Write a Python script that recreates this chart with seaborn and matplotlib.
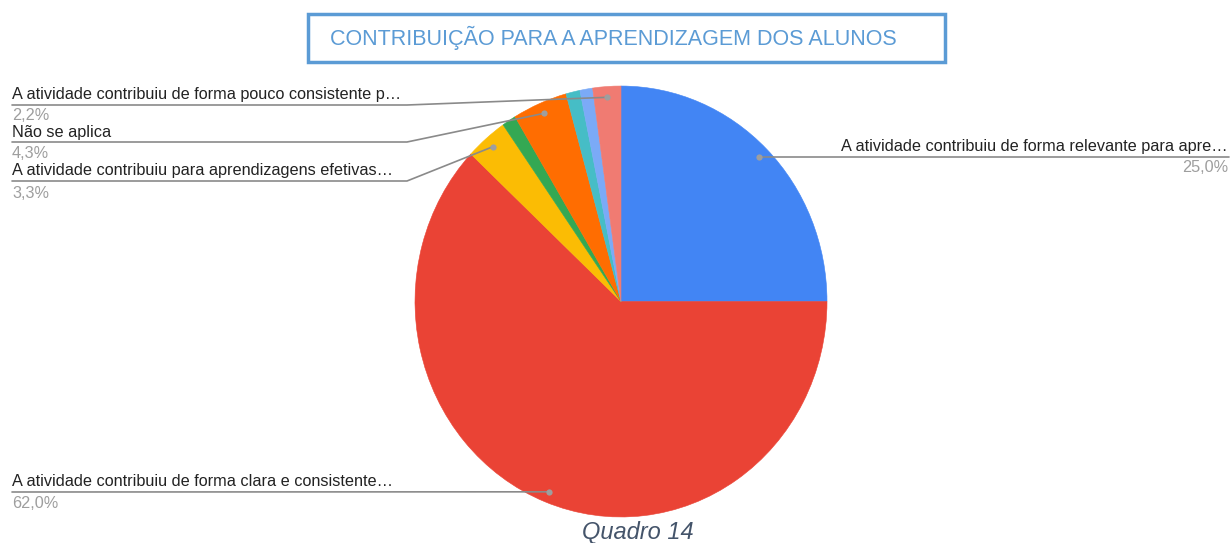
import numpy as np
import matplotlib
matplotlib.use("Agg")
import matplotlib.pyplot as plt
import seaborn as sns
from matplotlib.patches import Rectangle

# dados do quadro
categories = [
    "A atividade contribuiu de forma relevante para apre…",
    "A atividade contribuiu de forma clara e consistente…",
    "A atividade contribuiu para aprendizagens efetivas…",
    "Outra resposta 1",
    "Não se aplica",
    "Outra resposta 2",
    "Outra resposta 3",
    "A atividade contribuiu de forma pouco consistente p…",
]
values = [25.0, 62.0, 3.3, 1.1, 4.3, 1.1, 1.0, 2.2]
pct_labels = ["25,0%", "62,0%", "3,3%", "", "4,3%", "", "", "2,2%"]
colors = ["#4285F4", "#EA4335", "#FBBC04", "#34A853",
          "#FF6D01", "#46BDC6", "#7BAAF7", "#F07B72"]

W, H = 1231, 543
K = 1.046  # a pizza é ligeiramente esticada na vertical
sns.set_theme(style="white")
plt.rcParams['font.family'] = ['Liberation Sans', 'DejaVu Sans']

fig = plt.figure(figsize=(W / 100, H / 100), dpi=100)
ax = fig.add_axes([0, 0, 1, 1])


def Y(y):
    # coordenada da imagem -> coordenada do eixo
    return (H - y) / K


cx, cy, R = 621, Y(301.5), 206
wedges, _ = ax.pie(values, colors=colors, startangle=90, counterclock=False,
                   center=(cx, cy), radius=R, frame=True,
                   wedgeprops=dict(linewidth=0))
for w in wedges:
    w.set_edgecolor(w.get_facecolor())
    w.set_linewidth(0.4)
ax.set_xlim(0, W)
ax.set_ylim(0, H / K)
ax.set_aspect('auto')
ax.axis('off')

# posição dos rótulos: (índice, lado, y do texto, y da linha, y da %)
label_layout = [
    (0, 'right', 146, 157, 168),
    (1, 'left', 481, 492, 503),
    (2, 'left', 171, 181, 193),
    (4, 'left', 132, 142, 154),
    (7, 'left', 95, 105, 116),
]
line_c = '#8a8a8a'
fs = 11.7
for idx, side, ty, ly, py in label_layout:
    w = wedges[idx]
    mid = np.deg2rad((w.theta1 + w.theta2) / 2)
    dx = cx + 0.95 * R * np.cos(mid)
    dy = cy + 0.95 * R * np.sin(mid)
    if side == 'right':
        ax.plot([dx, 1229], [Y(ly), Y(ly)], color=line_c, lw=1.2, zorder=3)
        ax.text(1228, Y(ty), categories[idx], ha='right', va='center',
                fontsize=fs, color='#222222')
        ax.text(1228, Y(py), pct_labels[idx], ha='right', va='center',
                fontsize=fs, color='#9e9e9e')
    else:
        if abs(Y(ly) - dy) < 3:
            xs, ys = [12, dx], [Y(ly), dy]
        else:
            xs, ys = [12, 407, dx], [Y(ly), Y(ly), dy]
        ax.plot(xs, ys, color=line_c, lw=1.2, zorder=3)
        ax.text(12, Y(ty), categories[idx], ha='left', va='center',
                fontsize=fs, color='#222222')
        ax.text(12, Y(py), pct_labels[idx], ha='left', va='center',
                fontsize=fs, color='#9e9e9e')
    ax.plot(dx, dy, 'o', ms=4.5, color='#9e9e9e', mec='none', zorder=4)

# título com moldura
ax.add_patch(Rectangle((308, Y(62)), 637, 48 / K, fill=False,
                       edgecolor='#5B9BD5', lw=2.5, zorder=5))
ax.text(330, Y(38), "CONTRIBUIÇÃO PARA A APRENDIZAGEM DOS ALUNOS",
        ha='left', va='center', fontsize=15.5, color='#5B9BD5')

ax.text(638, Y(533), "Quadro 14", ha='center', va='center',
        fontsize=17, style='italic', color='#44546A')

plt.savefig('out.png', dpi=100)
